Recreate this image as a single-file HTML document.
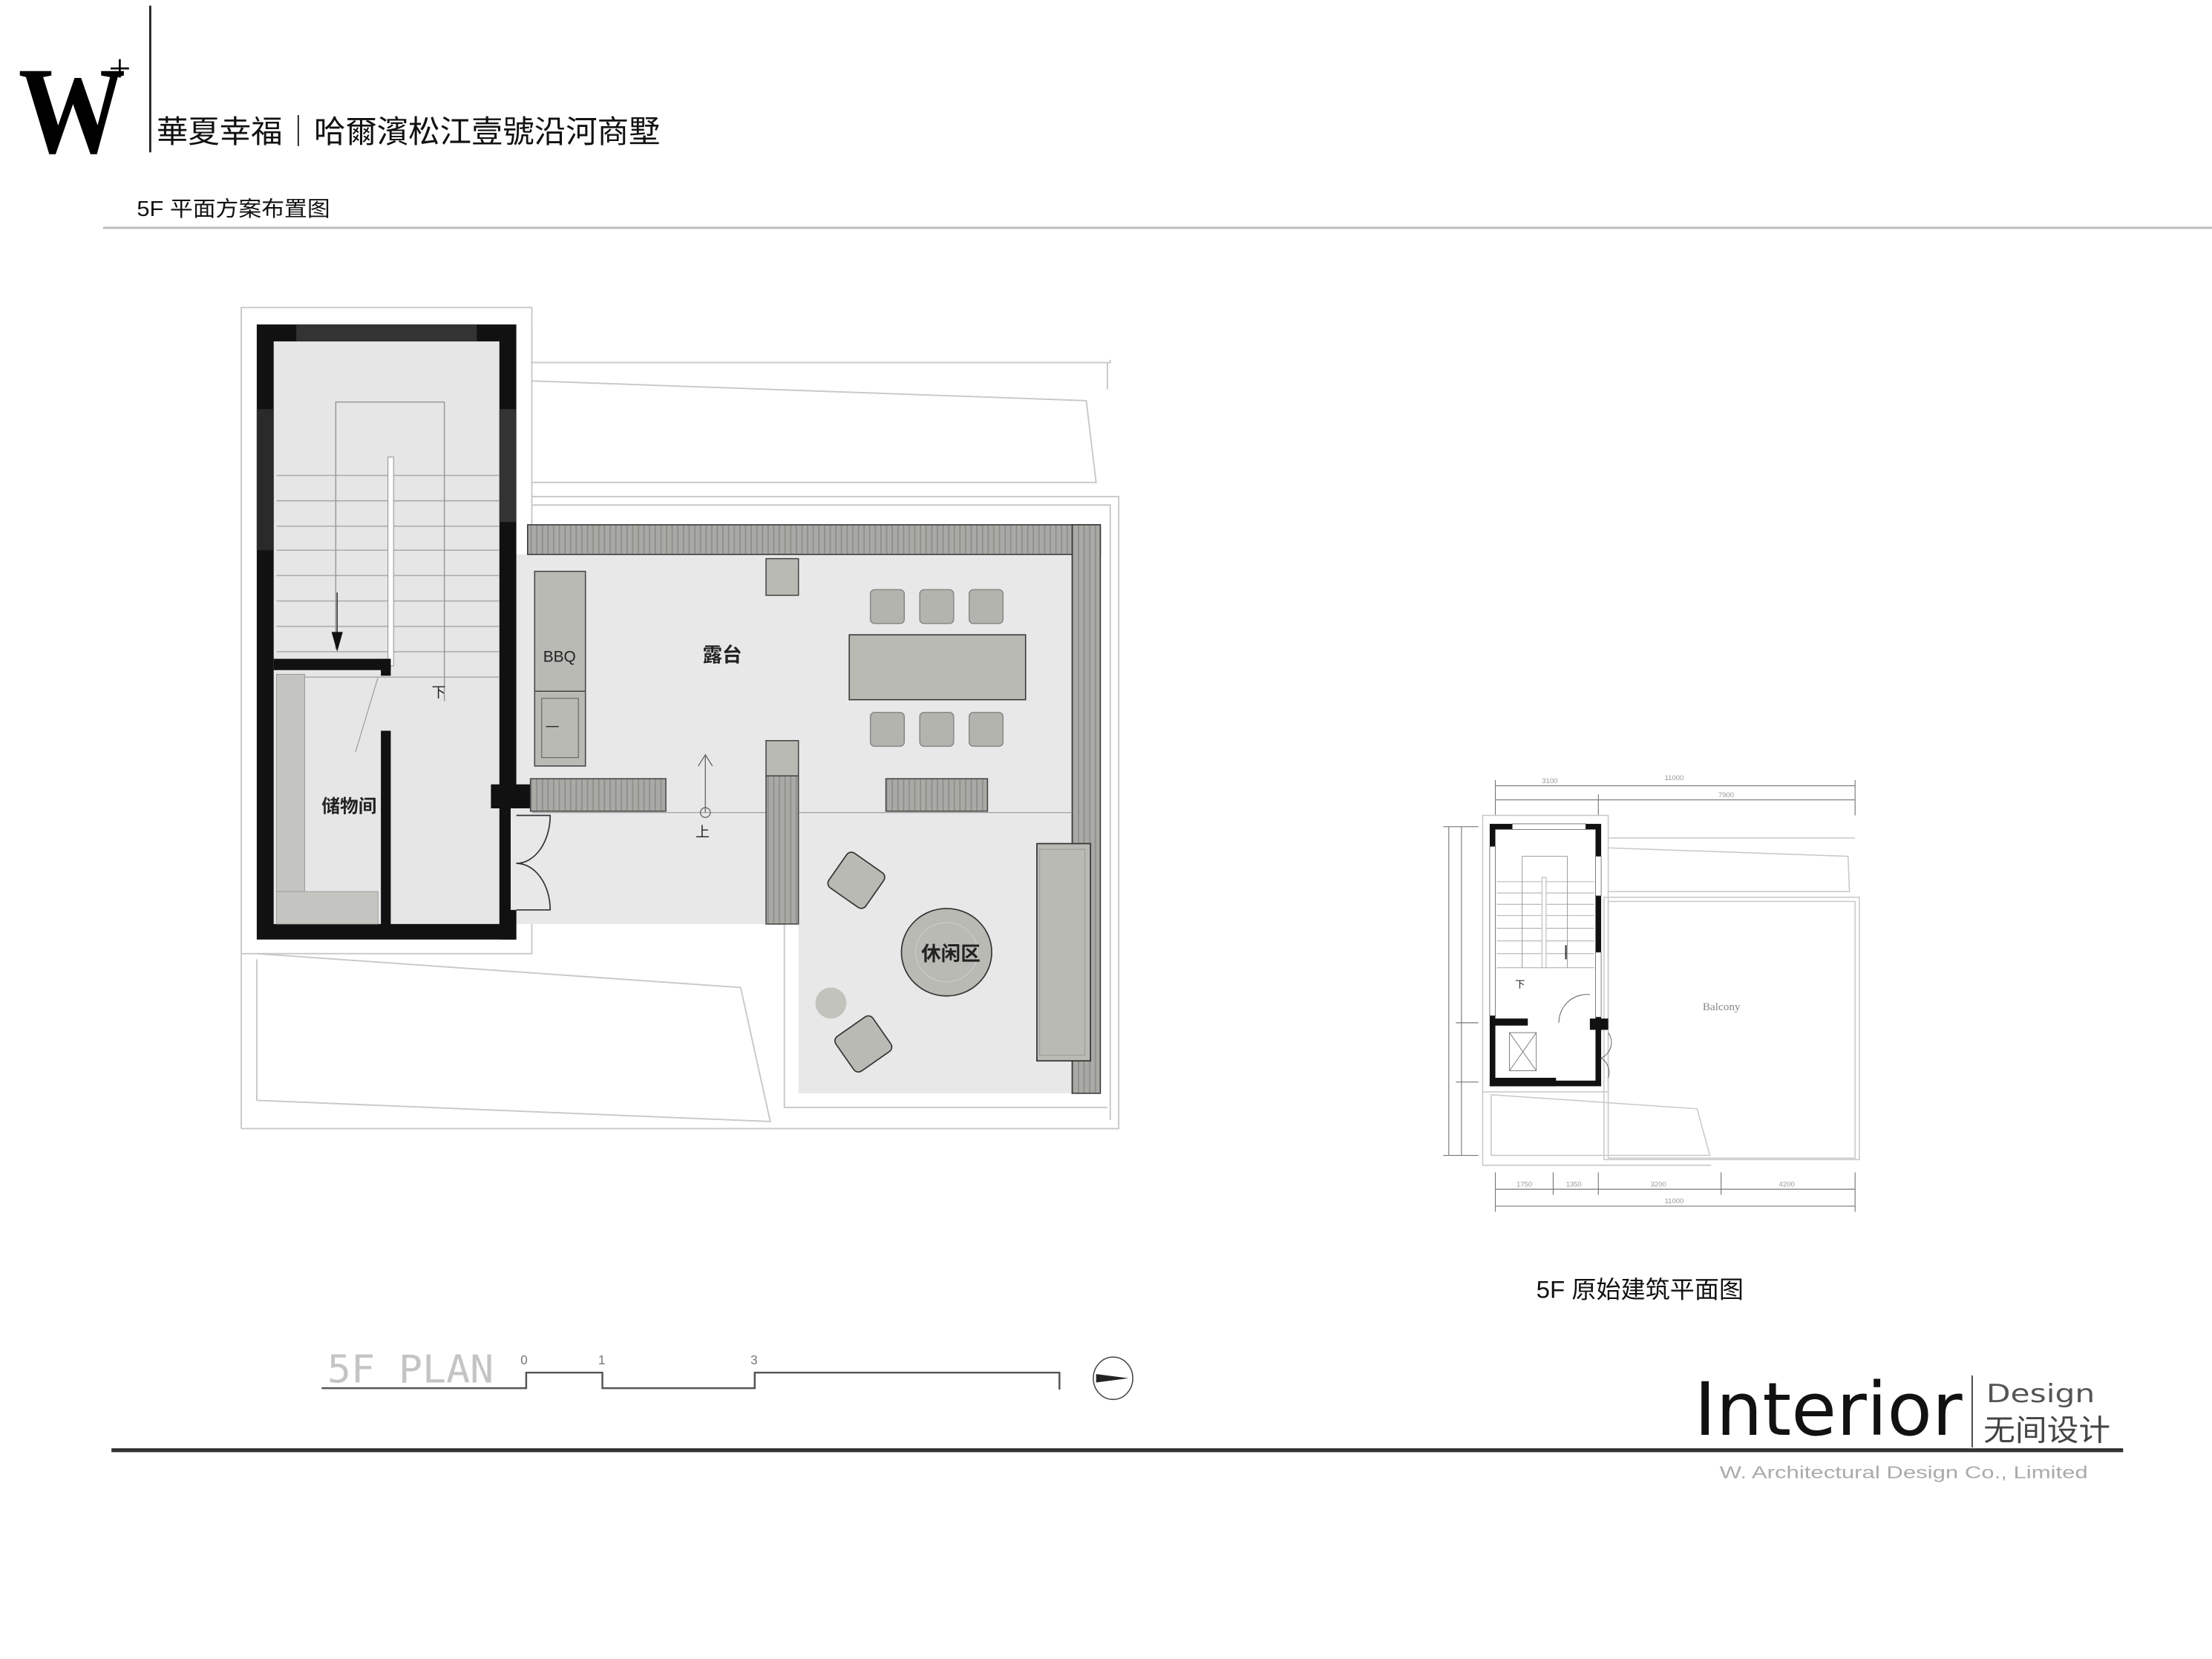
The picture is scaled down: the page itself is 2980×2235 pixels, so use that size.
<!DOCTYPE html>
<html><head><meta charset="utf-8"><style>
html,body{margin:0;padding:0;background:#fff;}
svg{display:block;}
text{font-family:"Liberation Sans","Noto Sans CJK SC",sans-serif;}
</style></head><body>
<svg width="2980" height="2235" viewBox="0 0 1568 1176" preserveAspectRatio="none" xmlns="http://www.w3.org/2000/svg">
<defs>
<pattern id="st" width="4" height="4" patternUnits="userSpaceOnUse">
<rect width="4" height="4" fill="#a9aaa5"/><rect width="1" height="4" fill="#8f908b"/>
</pattern>
</defs>
<rect width="1568" height="1176" fill="#fff"/>

<!-- Header -->
<text x="13" y="108" style="font-family:'Liberation Serif',serif;font-weight:bold" font-size="88" textLength="76" lengthAdjust="spacingAndGlyphs">W</text>
<text x="77" y="58" style="font-family:'Liberation Serif',serif" font-size="28">+</text>
<line x1="106.5" y1="4" x2="106.5" y2="108" stroke="#222" stroke-width="1.5"/>
<text x="111" y="101" font-size="22" fill="#111" textLength="357" lengthAdjust="spacingAndGlyphs">華夏幸福｜哈爾濱松江壹號沿河商墅</text>
<text x="97" y="153" font-size="15" fill="#111" textLength="137" lengthAdjust="spacingAndGlyphs">5F 平面方案布置图</text>
<line x1="73" y1="161.5" x2="1568" y2="161.5" stroke="#bbb" stroke-width="1.5"/>

<!-- Main plan outlines -->
<g fill="none" stroke="#c8c8c8" stroke-width="1">
<rect x="171" y="218" width="206" height="458"/>
<polyline points="377,230 377,257 787,257 787,255"/>
<polyline points="377,270 770,284 777,342 377,342"/>
<line x1="785" y1="257" x2="785" y2="276"/>
<polyline points="377,352 793,352 793,800 546,800"/>
<polyline points="377,358 787,358 787,794"/>
<polyline points="182,676 525,700 546,795 182,780 182,680"/>
<line x1="171" y1="676" x2="171" y2="800"/>
<line x1="171" y1="800" x2="790" y2="800"/>
<polyline points="546,655 556,655 556,785 785,785"/>
</g>

<!-- Terrace floor -->
<polygon points="366,393 760,393 760,775 566,775 566,655 366,655" fill="#e8e8e8"/>

<!-- Stair block -->
<rect x="182" y="230" width="184" height="436" fill="#111"/>
<rect x="194" y="242" width="160" height="413" fill="#e6e6e6"/>
<rect x="210" y="230" width="128" height="12" fill="#333"/>
<rect x="354" y="290" width="12" height="80" fill="#333"/>
<rect x="182" y="290" width="12" height="100" fill="#2a2a2a"/>
<g stroke="#aaa" stroke-width="0.8">
<line x1="196" y1="337" x2="354" y2="337"/><line x1="196" y1="355" x2="354" y2="355"/>
<line x1="196" y1="373" x2="354" y2="373"/><line x1="196" y1="390" x2="354" y2="390"/>
<line x1="196" y1="408" x2="354" y2="408"/><line x1="196" y1="426" x2="354" y2="426"/>
<line x1="196" y1="444" x2="354" y2="444"/><line x1="196" y1="462" x2="354" y2="462"/>
<line x1="196" y1="480" x2="354" y2="480"/>
</g>
<rect x="275" y="324" width="4" height="148" fill="#fff" stroke="#999" stroke-width="0.6"/>
<polyline points="238,460 238,285 315,285 315,497" fill="none" stroke="#999" stroke-width="0.8"/>
<line x1="239" y1="420" x2="239" y2="452" stroke="#333" stroke-width="0.8"/>
<polygon points="235,448 243,448 239,462" fill="#111"/>
<text x="306" y="494" font-size="10" fill="#222">下</text>
<!-- storage -->
<rect x="194" y="467" width="83" height="8" fill="#111"/>
<rect x="270" y="467" width="7" height="12" fill="#111"/>
<rect x="270" y="518" width="7" height="140" fill="#111"/>
<rect x="196" y="478" width="20" height="155" fill="#c4c5c0" stroke="#999" stroke-width="0.5"/>
<rect x="196" y="632" width="72" height="23" fill="#c4c5c0" stroke="#999" stroke-width="0.5"/>
<line x1="268" y1="480" x2="252" y2="533" stroke="#999" stroke-width="0.6"/>
<text x="228" y="576" font-size="13" font-weight="bold" fill="#222">储物间</text>
<!-- right wall stubs -->
<rect x="348" y="556" width="28" height="17" fill="#111"/>
<rect x="355" y="645" width="11" height="21" fill="#111"/>
<rect x="362" y="573" width="15" height="72" fill="#e8e8e8"/>
<!-- door -->
<g fill="none" stroke="#333" stroke-width="0.9">
<path d="M366,578 L390,578 A24,34 0 0 1 366,612"/>
<path d="M366,645 L390,645 A24,33 0 0 0 366,612"/>
</g>

<rect x="374" y="372" width="406" height="21" fill="url(#st)" stroke="#333" stroke-width="0.8"/>
<rect x="760" y="372" width="20" height="403" fill="url(#st)" stroke="#333" stroke-width="0.8"/>
<line x1="377" y1="576" x2="760" y2="576" stroke="#999" stroke-width="0.6"/>
<rect x="379" y="405" width="36" height="138" fill="#b9bab4" stroke="#444" stroke-width="0.8"/>
<line x1="379" y1="490" x2="415" y2="490" stroke="#444" stroke-width="0.8"/>
<rect x="384" y="495" width="26" height="42" fill="none" stroke="#666" stroke-width="0.6"/>
<line x1="387" y1="515" x2="396" y2="515" stroke="#333" stroke-width="0.8"/>
<text x="385" y="469" font-size="11" fill="#222">BBQ</text>
<text x="498" y="469" font-size="14" font-weight="bold" fill="#222">露台</text>
<rect x="543" y="396" width="23" height="26" fill="#b9bab4" stroke="#444" stroke-width="0.8"/>
<rect x="602" y="450" width="125" height="46" fill="#b9bab4" stroke="#333" stroke-width="0.8"/>
<g fill="#b3b4ae" stroke="#888" stroke-width="0.8">
<rect x="617" y="418" width="24" height="24" rx="3"/><rect x="652" y="418" width="24" height="24" rx="3"/><rect x="687" y="418" width="24" height="24" rx="3"/>
<rect x="617" y="505" width="24" height="24" rx="3"/><rect x="652" y="505" width="24" height="24" rx="3"/><rect x="687" y="505" width="24" height="24" rx="3"/>
</g>
<rect x="376" y="552" width="96" height="23" fill="url(#st)" stroke="#444" stroke-width="0.8"/>
<rect x="628" y="552" width="72" height="23" fill="url(#st)" stroke="#444" stroke-width="0.8"/>
<rect x="543" y="525" width="23" height="25" fill="#b9bab4" stroke="#444" stroke-width="0.8"/>
<rect x="543" y="550" width="23" height="105" fill="url(#st)" stroke="#444" stroke-width="0.8"/>
<line x1="500" y1="576" x2="500" y2="536" stroke="#666" stroke-width="0.7"/>
<polyline points="495,543 500,535 505,543" fill="none" stroke="#666" stroke-width="0.7"/>
<circle cx="500" cy="576" r="3.5" fill="none" stroke="#666" stroke-width="0.7"/>
<text x="493" y="593" font-size="10" fill="#222">上</text>
<ellipse cx="671" cy="675" rx="32" ry="31" fill="#b9bab4" stroke="#333" stroke-width="0.9"/>
<ellipse cx="671" cy="675" rx="22" ry="21" fill="none" stroke="#ccc" stroke-width="0.6"/>
<text x="653" y="681" font-size="14" font-weight="bold" fill="#222">休闲区</text>
<rect x="735" y="598" width="38" height="154" fill="#b9bab4" stroke="#333" stroke-width="0.9"/>
<rect x="737" y="602" width="32" height="146" fill="none" stroke="#999" stroke-width="0.5"/>
<g fill="#b9bab4" stroke="#333" stroke-width="0.9">
<rect x="-16" y="-15" width="32" height="30" rx="4" transform="translate(607,624) rotate(35)"/>
<rect x="-16" y="-15" width="32" height="30" rx="4" transform="translate(612,740) rotate(-35)"/>
</g>
<circle cx="589" cy="711" r="11" fill="#c2c3bd"/>

<!-- Small original plan -->
<g stroke="#777" stroke-width="0.6" fill="none">
<line x1="1060" y1="557" x2="1315" y2="557"/>
<line x1="1060" y1="567" x2="1315" y2="567"/>
<line x1="1060" y1="553" x2="1060" y2="578"/><line x1="1133" y1="563" x2="1133" y2="578"/><line x1="1315" y1="553" x2="1315" y2="578"/>
<line x1="1027" y1="586" x2="1027" y2="819"/><line x1="1036" y1="586" x2="1036" y2="819"/>
<line x1="1023" y1="586" x2="1048" y2="586"/><line x1="1032" y1="725" x2="1048" y2="725"/><line x1="1032" y1="767" x2="1048" y2="767"/><line x1="1023" y1="819" x2="1048" y2="819"/>
<line x1="1060" y1="843" x2="1315" y2="843"/><line x1="1060" y1="855" x2="1315" y2="855"/>
<line x1="1060" y1="831" x2="1060" y2="859"/><line x1="1101" y1="831" x2="1101" y2="847"/><line x1="1133" y1="831" x2="1133" y2="847"/><line x1="1220" y1="831" x2="1220" y2="847"/><line x1="1315" y1="831" x2="1315" y2="859"/>
</g>
<g font-size="5" fill="#999">
<text x="1093" y="555">3100</text><text x="1180" y="553">11000</text><text x="1218" y="565">7900</text>
<text x="1075" y="841">1750</text><text x="1110" y="841">1350</text><text x="1170" y="841">3200</text><text x="1261" y="841">4200</text><text x="1180" y="853">11000</text>
</g>
<g stroke="#c8c8c8" stroke-width="0.8" fill="none">
<rect x="1051" y="578" width="89" height="196"/>
<polyline points="1140,594 1315,594"/>
<polyline points="1140,601 1310,607 1311,632 1140,632"/>
<rect x="1137" y="636" width="181" height="186"/>
<rect x="1140" y="639" width="175" height="182"/>
<polyline points="1051,774 1051,826 1213,826"/>
<polyline points="1057,776 1203,786 1212,819 1057,819 1057,776"/>
</g>
<rect x="1056" y="584" width="79" height="186" fill="#111"/>
<rect x="1060" y="588" width="71" height="178" fill="#fff"/>
<rect x="1072" y="584" width="52" height="4" fill="#fff" stroke="#555" stroke-width="0.4"/>
<rect x="1056" y="600" width="4" height="120" fill="#fff" stroke="#555" stroke-width="0.4"/>
<rect x="1131" y="607" width="4" height="28" fill="#fff" stroke="#555" stroke-width="0.4"/>
<rect x="1131" y="675" width="4" height="46" fill="#fff" stroke="#555" stroke-width="0.4"/>
<g stroke="#aaa" stroke-width="0.5">
<line x1="1061" y1="625" x2="1130" y2="625"/><line x1="1061" y1="633" x2="1130" y2="633"/><line x1="1061" y1="641" x2="1130" y2="641"/>
<line x1="1061" y1="649" x2="1130" y2="649"/><line x1="1061" y1="658" x2="1130" y2="658"/><line x1="1061" y1="667" x2="1130" y2="667"/>
<line x1="1061" y1="676" x2="1130" y2="676"/><line x1="1061" y1="686" x2="1130" y2="686"/>
</g>
<polyline points="1079,686 1079,607 1111,607 1111,686" fill="none" stroke="#999" stroke-width="0.5"/>
<rect x="1093" y="622" width="3" height="64" fill="#fff" stroke="#999" stroke-width="0.4"/>
<line x1="1110" y1="670" x2="1110" y2="680" stroke="#222" stroke-width="1"/>
<text x="1074" y="700" font-size="7" fill="#222">下</text>
<rect x="1056" y="722" width="27" height="5" fill="#111"/>
<rect x="1056" y="764" width="47" height="6" fill="#111"/>
<rect x="1127" y="722" width="13" height="8" fill="#111"/>
<rect x="1070" y="732" width="19" height="27" fill="none" stroke="#777" stroke-width="0.5"/>
<path d="M1070,732 L1089,759 M1089,732 L1070,759" stroke="#777" stroke-width="0.5"/>
<path d="M1127,705 A20,20 0 0 0 1105,725" fill="none" stroke="#555" stroke-width="0.5"/>
<path d="M1140,732 A12,12 0 0 1 1135,750 A12,12 0 0 1 1140,764" fill="none" stroke="#555" stroke-width="0.5"/>
<text x="1207" y="716" style="font-family:'Liberation Serif',serif" font-size="8" fill="#888">Balcony</text>
<text x="1089" y="920" font-size="17" fill="#111" textLength="147" lengthAdjust="spacingAndGlyphs">5F 原始建筑平面图</text>

<!-- Bottom scale -->
<text x="232" y="980" font-size="27" fill="#c4c4c4" style="font-family:'DejaVu Sans Mono',monospace" textLength="118" lengthAdjust="spacingAndGlyphs">5F PLAN</text>
<polyline points="228,984 373,984 373,973 427,973 427,984 535,984 535,973 751,973 751,985" fill="none" stroke="#555" stroke-width="1.3"/>
<g font-size="9" fill="#777"><text x="369" y="967">0</text><text x="424" y="967">1</text><text x="532" y="967">3</text></g>
<ellipse cx="789" cy="977" rx="14" ry="15" fill="#fff" stroke="#444" stroke-width="0.8"/>
<polygon points="777,974 800,977 777,980" fill="#222"/>

<!-- Interior logo -->
<text x="1201" y="1017" style="font-family:'DejaVu Sans',sans-serif" font-size="52" fill="#111" textLength="190" lengthAdjust="spacingAndGlyphs">Interior</text>
<line x1="1398" y1="975" x2="1398" y2="1026" stroke="#444" stroke-width="1"/>
<text x="1408" y="994" style="font-family:'DejaVu Sans',sans-serif" font-size="18" fill="#555" textLength="77" lengthAdjust="spacingAndGlyphs">Design</text>
<text x="1406" y="1021" font-size="21" fill="#444" textLength="90" lengthAdjust="spacingAndGlyphs">无间设计</text>
<line x1="79" y1="1028" x2="1505" y2="1028" stroke="#333" stroke-width="2.8"/>
<text x="1219" y="1048" font-size="12" fill="#aaa" textLength="261" lengthAdjust="spacingAndGlyphs">W. Architectural Design Co., Limited</text>
</svg>
</body></html>
